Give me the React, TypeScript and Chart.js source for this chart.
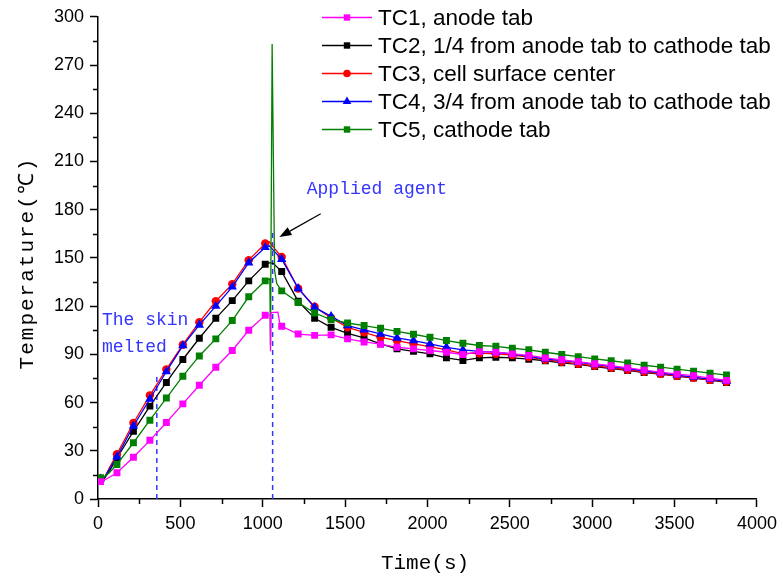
import React, { useEffect, useRef } from "react";
import { Chart, registerables } from "chart.js";
Chart.register(...registerables);

// ---- data ----
const TIME_S = [
  15, 115, 215, 315, 415, 515, 615, 715, 815, 915, 1015, 1115, 1215, 1315, 1415,
  1515, 1615, 1715, 1815, 1915, 2015, 2115, 2215, 2315, 2415, 2515, 2615, 2715,
  2815, 2915, 3015, 3115, 3215, 3315, 3415, 3515, 3615, 3715, 3815,
];

const TC1 = [
  10.8, 16.3, 26, 36.5, 47.6, 59.2, 70.8, 82, 92.4, 105, 114.3, 107.5, 102.6, 101.8,
  102.1, 99.6, 97.7, 96.3, 94.4, 93.4, 92.4, 91.3, 89.9, 91.7, 91.3, 90.3, 89.3, 87.8,
  86.6, 85.4, 84.1, 82.9, 81.6, 80.2, 78.9, 77.7, 76.7, 75.2, 73.8,
];
const TC2 = [
  12, 25.5, 42.1, 57.8, 72.5, 86.8, 100, 112.4, 123.4, 135.7, 146, 141.5, 123, 112.4,
  106.8, 103.1, 100.2, 96.5, 93.4, 91.9, 90.3, 87.8, 86.2, 87.8, 88.2, 87.8, 87, 86,
  84.7, 83.7, 82.4, 81.2, 80, 78.7, 77.7, 76.4, 75.2, 73.9, 72.5,
];
const TC3 = [
  12.5, 27.9, 47.3, 64.5, 80.6, 96, 110, 123, 133.7, 148.6, 159, 150.6, 131, 119.6,
  112.6, 106.8, 103.7, 100.6, 98.6, 96.5, 94.8, 92.8, 90.5, 90.7, 90.3, 89.6, 88.3,
  86.6, 85.4, 84.1, 82.9, 81.6, 80.4, 79.1, 77.9, 76.6, 75.4, 74.1, 72.9,
];
const TC4 = [
  12.5, 26.3, 45.4, 62.2, 79.3, 95.4, 108.3, 120, 132, 147, 156.6, 149.2, 131, 119.2,
  113.6, 107.9, 105.2, 102.7, 100.2, 98.6, 96.5, 94.4, 92.8, 91.9, 91.3, 90.3, 88.8,
  87, 86.2, 85, 83.7, 82.4, 81.2, 79.8, 78.5, 77.1, 75.8, 74.6, 73.2,
];
const TC5 = [
  13.3, 21.5, 35, 49, 62.8, 76.4, 89, 99.6, 111, 125.8, 135.7, 129.5, 122.3, 115.7,
  111.6, 109.5, 107.9, 106.2, 104.3, 102.5, 100.6, 98.6, 96.9, 95.5, 95, 93.8, 92.8,
  91.3, 89.9, 88.6, 87.2, 86, 84.7, 83.2, 82, 80.8, 79.5, 78.3, 77.1,
];

// extra samples between markers (no marker drawn)
const TC1_EXTRA_T = [40, 70, 1045, 1047, 1051, 1092, 1102];
const TC1_EXTRA_V = [11.8, 13.5, 114.5, 92, 116, 116.3, 110];
const TC2_EXTRA_T = [40, 70, 1045, 1065];
const TC2_EXTRA_V = [13, 17.5, 147, 146.5];
const TC3_EXTRA_T = [40, 70, 1040, 1062];
const TC3_EXTRA_V = [13.5, 19.5, 160, 157];
const TC4_EXTRA_T = [40, 70, 1040, 1062];
const TC4_EXTRA_V = [13.5, 18.8, 157.5, 155];
const TC5_EXTRA_T = [40, 70, 1043, 1047, 1057, 1072, 1085];
const TC5_EXTRA_V = [14, 16.5, 137, 96, 283, 142, 134];

const SERIES_NAMES = [
  "TC1, anode tab",
  "TC2, 1/4 from anode tab to cathode tab",
  "TC3, cell surface center",
  "TC4, 3/4 from anode tab to cathode tab",
  "TC5, cathode tab",
];
const SERIES_COLORS = ["#ff00ff", "#000000", "#ff0000", "#0000ff", "#008000"];
const SERIES_MARKERS = ["rect", "rect", "circle", "triangle", "rect"];
const SERIES_ORDER = [0, 4, 3, 2, 1]; // lower = drawn on top

// event markers (dashed lines)
const SKIN_MELT_T = [357, 357];
const SKIN_MELT_V = [0, 76];
const AGENT_T = [1060, 1060];
const AGENT_V = [0, 168];

const X_TICKS_MINOR = [250, 750, 1250, 1750, 2250, 2750, 3250, 3750];
const Y_TICKS_MINOR = [15, 45, 75, 105, 135, 165, 195, 225, 255, 285];

const ANNOT_COLOR = "#3434ff";
const MONO = '"Liberation Mono", "DejaVu Sans Mono", monospace';
const SANS = '"Liberation Sans", Arial, sans-serif';

function buildPoints(values: number[], extraT: number[], extraV: number[]) {
  const pts: any[] = TIME_S.map((t, i) => ({ x: t, y: values[i], m: true }));
  extraT.forEach((t, i) => pts.push({ x: t, y: extraV[i], m: false }));
  pts.sort((a, b) => a.x - b.x);
  return pts;
}

function markerRadius(style: string) {
  if (style === "circle") return 4.2;
  if (style === "triangle") return 5.4;
  return 4.9;
}

function drawMarker(ctx: CanvasRenderingContext2D, style: string, x: number, y: number, color: string) {
  ctx.fillStyle = color;
  ctx.beginPath();
  if (style === "circle") {
    ctx.arc(x, y, 3.8, 0, Math.PI * 2);
  } else if (style === "triangle") {
    const r = 5;
    ctx.moveTo(x, y - r);
    ctx.lineTo(x + r * 0.866, y + r * 0.5);
    ctx.lineTo(x - r * 0.866, y + r * 0.5);
    ctx.closePath();
  } else {
    ctx.rect(x - 3.2, y - 3.2, 6.4, 6.4);
  }
  ctx.fill();
}

const decorPlugin = {
  id: "decor",
  afterDraw(chart: any) {
    const { ctx, chartArea } = chart;
    const xs = chart.scales.x;
    const ys = chart.scales.y;
    ctx.save();

    // minor ticks
    ctx.strokeStyle = "#000";
    ctx.lineWidth = 1.5;
    Y_TICKS_MINOR.forEach((v) => {
      const py = Math.round(ys.getPixelForValue(v)) + 0.5;
      ctx.beginPath();
      ctx.moveTo(chartArea.left - 5, py);
      ctx.lineTo(chartArea.left, py);
      ctx.stroke();
    });
    X_TICKS_MINOR.forEach((v) => {
      const px = Math.round(xs.getPixelForValue(v)) + 0.5;
      ctx.beginPath();
      ctx.moveTo(px, chartArea.bottom);
      ctx.lineTo(px, chartArea.bottom + 5);
      ctx.stroke();
    });

    // annotations
    ctx.fillStyle = ANNOT_COLOR;
    ctx.font = `18px ${MONO}`;
    ctx.textAlign = "left";
    ctx.textBaseline = "middle";
    ctx.fillText("Applied agent", xs.getPixelForValue(1267), ys.getPixelForValue(192.8));
    ctx.fillText("The skin", xs.getPixelForValue(24), ys.getPixelForValue(111));
    ctx.fillText("melted", xs.getPixelForValue(24), ys.getPixelForValue(94.2));

    // arrow
    const ax0 = xs.getPixelForValue(1352);
    const ay0 = ys.getPixelForValue(177.5);
    const ax1 = xs.getPixelForValue(1101);
    const ay1 = ys.getPixelForValue(163);
    const ang = Math.atan2(ay1 - ay0, ax1 - ax0);
    const hl = 12;
    const hw = 4.5;
    const bx = ax1 - hl * Math.cos(ang);
    const by = ay1 - hl * Math.sin(ang);
    ctx.strokeStyle = "#000";
    ctx.lineWidth = 1.2;
    ctx.beginPath();
    ctx.moveTo(ax0, ay0);
    ctx.lineTo(bx, by);
    ctx.stroke();
    ctx.fillStyle = "#000";
    ctx.beginPath();
    ctx.moveTo(ax1, ay1);
    ctx.lineTo(bx + hw * Math.sin(ang), by - hw * Math.cos(ang));
    ctx.lineTo(bx - hw * Math.sin(ang), by + hw * Math.cos(ang));
    ctx.closePath();
    ctx.fill();

    // legend
    ctx.font = `22.5px ${SANS}`;
    ctx.textBaseline = "middle";
    SERIES_NAMES.forEach((name, i) => {
      const yy = 17.5 + i * 28;
      ctx.strokeStyle = SERIES_COLORS[i];
      ctx.lineWidth = 1.3;
      ctx.beginPath();
      ctx.moveTo(322, yy);
      ctx.lineTo(372, yy);
      ctx.stroke();
      drawMarker(ctx, SERIES_MARKERS[i], 347, yy, SERIES_COLORS[i]);
      ctx.fillStyle = "#000";
      ctx.fillText(name, 378, yy + 1);
    });

    // axis titles
    ctx.fillStyle = "#000";
    ctx.font = `21px ${MONO}`;
    ctx.textAlign = "center";
    ctx.fillText("Time(s)", 425, 563);
    ctx.save();
    ctx.translate(27, 263);
    ctx.rotate(-Math.PI / 2);
    try {
      (ctx as any).letterSpacing = "2px";
    } catch (e) {}
    ctx.fillText("Temperature(℃)", 0, 0);
    ctx.restore();

    ctx.restore();
  },
};

export default function App() {
  const ref = useRef<HTMLCanvasElement | null>(null);

  useEffect(() => {
    document.body.style.margin = "0";
    if (!ref.current) return;
    const series = [
      buildPoints(TC1, TC1_EXTRA_T, TC1_EXTRA_V),
      buildPoints(TC2, TC2_EXTRA_T, TC2_EXTRA_V),
      buildPoints(TC3, TC3_EXTRA_T, TC3_EXTRA_V),
      buildPoints(TC4, TC4_EXTRA_T, TC4_EXTRA_V),
      buildPoints(TC5, TC5_EXTRA_T, TC5_EXTRA_V),
    ];
    const datasets: any[] = series.map((pts, i) => ({
      label: SERIES_NAMES[i],
      data: pts,
      order: SERIES_ORDER[i],
      borderColor: SERIES_COLORS[i],
      backgroundColor: SERIES_COLORS[i],
      borderWidth: 1.3,
      tension: 0,
      pointStyle: SERIES_MARKERS[i],
      pointRadius: (c: any) => (c.raw && c.raw.m ? markerRadius(SERIES_MARKERS[i]) : 0),
      pointBorderWidth: 0,
      pointBackgroundColor: SERIES_COLORS[i],
      pointHoverRadius: 0,
    }));
    datasets.push({
      label: "skin",
      data: SKIN_MELT_T.map((t, i) => ({ x: t, y: SKIN_MELT_V[i] })),
      order: 6,
      borderColor: ANNOT_COLOR,
      borderWidth: 1.5,
      borderDash: [5, 4],
      pointRadius: 0,
    });
    datasets.push({
      label: "agent",
      data: AGENT_T.map((t, i) => ({ x: t, y: AGENT_V[i] })),
      order: 6,
      borderColor: ANNOT_COLOR,
      borderWidth: 1.5,
      borderDash: [5, 4],
      pointRadius: 0,
    });

    const chart = new Chart(ref.current, {
      type: "line",
      data: { datasets },
      options: {
        animation: false,
        responsive: true,
        maintainAspectRatio: false,
        layout: { padding: { top: 16, right: 22, left: 0, bottom: 0 } },
        plugins: { legend: { display: false }, tooltip: { enabled: false } },
        scales: {
          x: {
            type: "linear",
            min: 0,
            max: 4000,
            afterFit: (s: any) => {
              s.height = 82;
            },
            ticks: {
              stepSize: 500,
              color: "#000",
              padding: 6,
              font: { family: SANS, size: 18 },
              maxRotation: 0,
              callback: (v: any) => String(v),
            },
            grid: {
              drawOnChartArea: false,
              drawTicks: true,
              tickLength: 8,
              tickColor: "#000",
              tickWidth: 1.5,
            },
            border: { display: true, color: "#000", width: 1.5 },
          },
          y: {
            type: "linear",
            min: 0,
            max: 300,
            afterFit: (s: any) => {
              s.width = 98;
            },
            ticks: {
              stepSize: 30,
              color: "#000",
              padding: 6,
              font: { family: SANS, size: 18 },
              callback: (v: any) => String(v),
            },
            grid: {
              drawOnChartArea: false,
              drawTicks: true,
              tickLength: 8,
              tickColor: "#000",
              tickWidth: 1.5,
            },
            border: { display: true, color: "#000", width: 1.5 },
          },
        },
      },
      plugins: [decorPlugin],
    });
    return () => chart.destroy();
  }, []);

  return (
    <div style={{ width: 783, height: 581, position: "relative" }}>
      <canvas ref={ref} />
    </div>
  );
}
